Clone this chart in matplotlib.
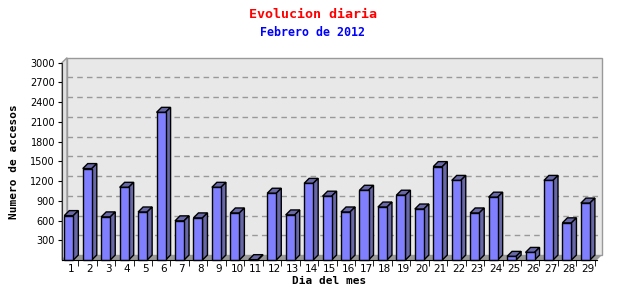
import numpy as np
import matplotlib
matplotlib.use("Agg")
import matplotlib.pyplot as plt
from matplotlib.patches import Polygon, Rectangle

# data
dias = list(range(1, 30))
accesos = [675, 1390, 655, 1105, 730, 2245, 595, 640, 1105, 715,
           5, 1015, 685, 1165, 970, 730, 1060, 805, 985, 775,
           1420, 1210, 715, 955, 55, 115, 1210, 565, 865]
y_ticks = [300, 600, 900, 1200, 1500, 1800, 2100, 2400, 2700, 3000]

titulo = "Evolucion diaria"
subtitulo = "Febrero de 2012"

MONO = "DejaVu Sans Mono"
FRONT = "#8080ff"
SIDE = "#6868a8"

fig = plt.figure(figsize=(6.4, 3.0), dpi=100)
# axes in pixel terms: front plane 62..597 px wide, 62.7..260 px tall
L, R, T, B = 62, 597, 62.7, 260
ax = fig.add_axes([L / 640, 1 - B / 300, (R - L) / 640, (B - T) / 300])
ax.set_xlim(0.5, 29.5)
ax.set_ylim(0, 3000)

depth = 5  # px
dx_ax = depth / (R - L)
dy_ax = depth / (B - T)
dx = dx_ax * 29
dy = dy_ax * 3000

# back wall, left wall, floor
ax.add_patch(Rectangle((dx_ax, dy_ax), 1, 1.0, transform=ax.transAxes,
                       facecolor="#e8e8e8", edgecolor="#999999", lw=1,
                       zorder=0, clip_on=False))
ax.add_patch(Polygon([(0, 0), (0, 1), (dx_ax, 1 + dy_ax), (dx_ax, dy_ax)],
                     transform=ax.transAxes, facecolor="#e0e0e0",
                     edgecolor="#999999", lw=1, zorder=0.2, clip_on=False))
ax.add_patch(Polygon([(0, 0), (1, 0), (1 + dx_ax, dy_ax), (dx_ax, dy_ax)],
                     transform=ax.transAxes, facecolor="#999999",
                     edgecolor="none", zorder=1, clip_on=False))

# dashed grid on the back wall
for v in y_ticks[:-1]:
    ax.plot([0.5 + dx, 29.5 + dx], [v + dy, v + dy], color="#999999",
            lw=1, ls=(0, (4, 3)), zorder=0.5, clip_on=False)

# 3d bars
w = 0.49
for d, v in zip(dias, accesos):
    x0 = d - 0.13 - w / 2
    x1 = x0 + w
    ax.add_patch(Polygon([(x0, v), (x1, v), (x1 + dx, v + dy), (x0 + dx, v + dy)],
                         facecolor=SIDE, edgecolor="black", lw=1,
                         zorder=2, clip_on=False))
    ax.add_patch(Polygon([(x1, 0), (x1, v), (x1 + dx, v + dy), (x1 + dx, dy)],
                         facecolor=SIDE, edgecolor="black", lw=1,
                         zorder=2, clip_on=False))
    ax.bar(d - 0.13, v, width=w, color=FRONT, edgecolor="black", lw=1,
           zorder=3, clip_on=False)

for s in ["top", "right"]:
    ax.spines[s].set_visible(False)
ax.spines["left"].set_color("#333333")
ax.spines["bottom"].set_color("black")
ax.spines["left"].set_zorder(4)
ax.spines["bottom"].set_zorder(4)

ax.set_yticks(y_ticks)
ax.set_yticklabels([str(v) for v in y_ticks], fontsize=7)
ax.tick_params(axis="y", length=3, pad=2)
ax.set_xticks(dias)
ax.set_xticklabels([str(d) for d in dias], fontsize=7.5)
ax.set_xticks([d + 0.38 for d in dias], minor=True)
ax.tick_params(axis="x", which="major", length=0, pad=3)
ax.tick_params(axis="x", which="minor", length=4)

ax.set_xlabel("Dia del mes", fontsize=8, fontweight="bold", family=MONO, labelpad=1)
ax.set_ylabel("Numero de accesos", fontsize=8, fontweight="bold", family=MONO, labelpad=8)

fig.text(313 / 640, 1 - 14 / 300, titulo, color="red", fontsize=9.6,
         fontweight="bold", family=MONO, ha="center", va="center")
fig.text(313 / 640, 1 - 32 / 300, subtitulo, color="blue", fontsize=8.4,
         fontweight="bold", family=MONO, ha="center", va="center")

fig.savefig("out.png", dpi=100, facecolor="white")
